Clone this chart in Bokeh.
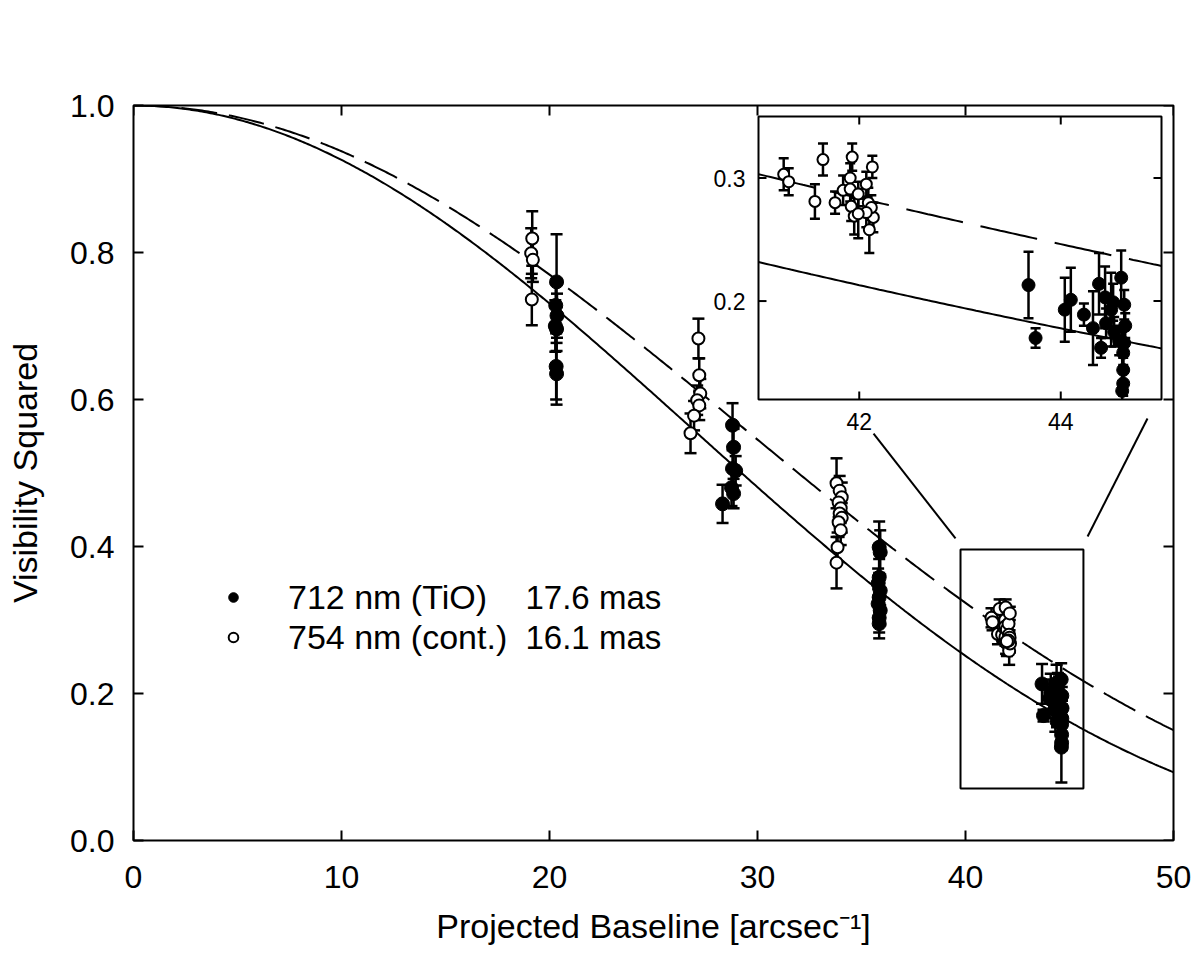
import numpy as np
from bokeh.plotting import figure
from bokeh.models import (Range1d, LinearAxis, FixedTicker, PrintfTickFormatter,
                          ColumnDataSource, Label, Legend, LegendItem, BoxAnnotation)
from bokeh.embed import file_html
from bokeh.resources import INLINE
from bokeh.core.properties import value

FONT = "Liberation Sans"

# ---- measurements ------------------------------------------------------
# 712 nm (TiO band): projected baseline [1/arcsec], squared visibility, 1-sigma error
tio_baseline = [20.34, 20.30, 20.36, 20.28, 20.34, 20.32, 20.34,
                28.80, 28.85, 28.80, 28.95, 28.75, 28.85, 28.32,
                35.85, 35.90, 35.85, 35.80, 35.90, 35.85, 35.80, 35.90, 35.85, 35.85,
                43.68, 43.75, 44.04, 44.10, 44.23, 44.32, 44.38, 44.40, 44.44, 44.45, 44.50,
                44.52, 44.53, 44.60, 44.63, 44.64, 44.63, 44.62, 44.62, 44.62, 44.61, 44.58]
tio_v2 = [0.760, 0.728, 0.714, 0.700, 0.696, 0.645, 0.635,
          0.565, 0.535, 0.506, 0.503, 0.480, 0.472, 0.458,
          0.399, 0.392, 0.358, 0.350, 0.340, 0.331, 0.322, 0.313, 0.303, 0.295,
          0.213, 0.170, 0.193, 0.201, 0.189, 0.178, 0.214, 0.162, 0.203, 0.182, 0.193,
          0.199, 0.175, 0.219, 0.197, 0.180, 0.166, 0.158, 0.144, 0.133, 0.127, 0.168]
tio_err = [0.065, 0.030, 0.030, 0.035, 0.030, 0.045, 0.042,
           0.030, 0.025, 0.025, 0.020, 0.025, 0.020, 0.026,
           0.035, 0.030, 0.025, 0.020, 0.020, 0.020, 0.020, 0.020, 0.020, 0.020,
           0.027, 0.008, 0.026, 0.026, 0.009, 0.030, 0.025, 0.008, 0.025, 0.012, 0.030,
           0.015, 0.012, 0.022, 0.012, 0.010, 0.010, 0.010, 0.010, 0.010, 0.048, 0.012]

# 754 nm (continuum)
cont_baseline = [19.17, 19.12, 19.20, 19.15,
                 27.16, 27.20, 27.25, 27.10, 27.20, 26.95, 26.78,
                 33.80, 33.95, 34.05, 33.90, 34.00, 33.95, 34.05, 33.90, 34.00, 33.85, 33.80,
                 41.25, 41.30, 41.56, 41.64, 41.76, 41.84, 41.91, 41.93, 41.91, 41.92,
                 41.95, 41.99, 42.07, 42.09, 42.10, 42.13, 42.14, 42.12, 42.07, 41.99]
cont_v2 = [0.819, 0.799, 0.790, 0.736,
           0.683, 0.633, 0.608, 0.599, 0.592, 0.578, 0.554,
           0.486, 0.476, 0.467, 0.460, 0.452, 0.445, 0.439, 0.433, 0.422, 0.399, 0.378,
           0.303, 0.297, 0.281, 0.315, 0.280, 0.290, 0.300, 0.317, 0.291, 0.277,
           0.269, 0.287, 0.295, 0.280, 0.258, 0.309, 0.268, 0.276, 0.272, 0.271]
cont_err = [0.037, 0.034, 0.030, 0.035,
            0.027, 0.023, 0.020, 0.020, 0.020, 0.020, 0.027,
            0.034, 0.020, 0.020, 0.020, 0.020, 0.020, 0.020, 0.020, 0.020, 0.020, 0.035,
            0.013, 0.011, 0.014, 0.013, 0.009, 0.012, 0.012, 0.011, 0.010, 0.012,
            0.015, 0.010, 0.010, 0.012, 0.019, 0.009, 0.012, 0.010, 0.012, 0.020]

# uniform-disk diameters [mas] fitted to each filter
diam_tio = 17.6
diam_cont = 16.1

x_range = (0, 50)
y_range = (0.0, 1.0)
x_ticks = [0, 10, 20, 30, 40, 50]
y_ticks = [0.0, 0.2, 0.4, 0.6, 0.8, 1.0]

# enlarged view of the longest baselines
zoom_x_range = (41, 45)
zoom_y_range = (0.12, 0.35)
zoom_x_ticks = [42, 44]
zoom_y_ticks = [0.2, 0.3]

legend_labels = ["712 nm (TiO)", "754 nm (cont.)"]
legend_diams = ["%.1f mas" % diam_tio, "%.1f mas" % diam_cont]

# ---- page geometry (pixels) -------------------------------------------
W, H = 1193, 959
FRAME_L, FRAME_R, FRAME_T, FRAME_B = 133, 1173, 105, 840
INSET_L, INSET_R, INSET_T, INSET_B = 758, 1161, 116, 399
TICK = 10
INSET_TICK = 8


def ud_visibility2(b, diam_mas):
    """Squared visibility of a uniform disk: [2 J1(z)/z]^2, z = pi * theta * B."""
    z = np.pi * diam_mas * 1e-3 * np.asarray(b, float)
    q = (z / 2.0) ** 2
    term = np.ones_like(z)
    total = np.zeros_like(z)
    for k in range(40):
        total += term
        term = -term * q / ((k + 1) * (k + 2))
    return total ** 2


def make_source(b, v, e, xlim=None, ylim=None):
    b = np.asarray(b, float); v = np.asarray(v, float); e = np.asarray(e, float)
    lo, hi = v - e, v + e
    if xlim is not None:
        keep = (b >= xlim[0]) & (b <= xlim[1])
        b, v, lo, hi = b[keep], v[keep], lo[keep], hi[keep]
    data = dict(b=b, v=v, lo=lo, hi=hi)
    if ylim is not None:
        data["lo"] = np.maximum(lo, ylim[0])
        data["hi"] = np.minimum(hi, ylim[1])
    return ColumnDataSource(data), lo, hi


# ---- main panel --------------------------------------------------------
p = figure(width=W, height=H, x_range=Range1d(*x_range), y_range=Range1d(*y_range),
           x_axis_type=None, y_axis_type=None, output_backend="svg",
           toolbar_location=None, min_border_left=FRAME_L, min_border_right=W - FRAME_R,
           min_border_top=FRAME_T, min_border_bottom=H - FRAME_B,
           background_fill_color="white", border_fill_color="white",
           outline_line_color="black", outline_line_width=2)

px_per_x = (FRAME_R - FRAME_L) / (x_range[1] - x_range[0])
px_per_y = (FRAME_B - FRAME_T) / (y_range[1] - y_range[0])

xax = LinearAxis(ticker=FixedTicker(ticks=x_ticks), formatter=PrintfTickFormatter(format="%d"),
                 axis_line_color=None, major_tick_in=TICK, major_tick_out=0,
                 major_tick_line_width=2, minor_tick_line_color=None,
                 major_label_text_font=FONT, major_label_text_font_size="32px",
                 major_label_text_color="black", major_label_standoff=25,
                 axis_label="Projected Baseline [arcsec\u207b\u00b9]",
                 axis_label_text_font=FONT, axis_label_text_font_size="34px",
                 axis_label_text_font_style="normal", axis_label_text_color="black",
                 axis_label_standoff=16)
p.add_layout(xax, "below")
yax = LinearAxis(ticker=FixedTicker(ticks=y_ticks), formatter=PrintfTickFormatter(format="%.1f"),
                 axis_line_color=None, major_tick_in=TICK, major_tick_out=0,
                 major_tick_line_width=2, minor_tick_line_color=None,
                 major_label_text_font=FONT, major_label_text_font_size="32px",
                 major_label_text_color="black", major_label_standoff=19,
                 axis_label="Visibility Squared",
                 axis_label_text_font=FONT, axis_label_text_font_size="34px",
                 axis_label_text_font_style="normal", axis_label_text_color="black",
                 axis_label_standoff=23)
p.add_layout(yax, "left")

# mirrored inward ticks on the top and right edges
p.segment(x0=x_ticks, y0=[y_range[1]] * len(x_ticks), x1=x_ticks,
          y1=[y_range[1] - TICK / px_per_y] * len(x_ticks), line_color="black", line_width=2)
p.segment(x0=[x_range[1]] * len(y_ticks), y0=y_ticks,
          x1=[x_range[1] - TICK / px_per_x] * len(y_ticks), y1=y_ticks,
          line_color="black", line_width=2)

# uniform-disk models
b_curve = np.linspace(x_range[0], x_range[1], 501)
p.line(b_curve, ud_visibility2(b_curve, diam_tio), line_color="black", line_width=2)
p.line(b_curve, ud_visibility2(b_curve, diam_cont), line_color="black", line_width=2,
       line_dash="36 12")

src_tio, _, _ = make_source(tio_baseline, tio_v2, tio_err)
src_cont, _, _ = make_source(cont_baseline, cont_v2, cont_err)


def draw_points(fig, s_tio, s_cont, cap, size_fill, size_open, cap_tio=None, cap_cont=None,
                **rn):
    for s, caps in ((s_cont, cap_cont), (s_tio, cap_tio)):
        fig.segment(x0="b", y0="lo", x1="b", y1="hi", source=s,
                    line_color="black", line_width=2.5, **rn)
        for key in ("lo", "hi"):
            src_c = caps[key] if caps is not None else s
            col = "y" if caps is not None else key
            fig.scatter("b", col, source=src_c, marker="dash", size=cap,
                        line_color="black", line_width=2.5, **rn)
    r_open = fig.scatter("b", "v", source=s_cont, marker="circle", size=size_open,
                         fill_color="white", line_color="black", line_width=2, **rn)
    r_fill = fig.scatter("b", "v", source=s_tio, marker="circle", size=size_fill,
                         fill_color="black", line_color="black", line_width=1, **rn)
    return r_fill, r_open


r_tio, r_cont = draw_points(p, src_tio, src_cont, 12, 14, 12)

# region shown enlarged, and connector lines to the inset
p.add_layout(BoxAnnotation(left=39.76, right=45.67, bottom=0.0707, top=0.396,
                           fill_alpha=0, line_color="black", line_alpha=1, line_width=2))
p.segment(x0=[35.58, 48.75], y0=[0.5537, 0.5741], x1=[39.52, 45.87], y1=[0.4109, 0.4136],
          line_color="black", line_width=2)

# legend (key marker size follows the glyph box)
legend = Legend(items=[LegendItem(label=legend_labels[0], renderers=[r_tio]),
                       LegendItem(label=legend_labels[1], renderers=[r_cont])],
                location=(88, 183), orientation="vertical",
                glyph_width=24, glyph_height=40, label_height=40, label_standoff=43,
                spacing=0, padding=0, margin=0,
                border_line_color=None, background_fill_alpha=0,
                label_text_font=FONT, label_text_font_size="34px",
                label_text_color="black")
p.add_layout(legend)
for i, txt in enumerate(legend_diams):
    p.add_layout(Label(x=392, y=243 - 40 * i, x_units="screen", y_units="screen",
                       text=txt, text_baseline="middle", text_align="left",
                       text_font=FONT, text_font_size="33px", text_color="black"))

# ---- inset: its own coordinate system mapped onto part of the frame ------
ix_scale = (INSET_R - INSET_L) / (zoom_x_range[1] - zoom_x_range[0])
iy_scale = (INSET_B - INSET_T) / (zoom_y_range[1] - zoom_y_range[0])
ix0 = zoom_x_range[0] - (INSET_L - FRAME_L) / ix_scale
iy0 = zoom_y_range[0] - (FRAME_B - INSET_B) / iy_scale
p.extra_x_ranges = {"ix": Range1d(ix0, ix0 + (FRAME_R - FRAME_L) / ix_scale)}
p.extra_y_ranges = {"iy": Range1d(iy0, iy0 + (FRAME_B - FRAME_T) / iy_scale)}
rn = dict(x_range_name="ix", y_range_name="iy")

zx0, zx1 = zoom_x_range
zy0, zy1 = zoom_y_range
p.quad(left=[zx0], right=[zx1], bottom=[zy0], top=[zy1], fill_color="white",
       line_color=None, **rn)

b_zoom = np.linspace(zx0, zx1, 101)
p.line(b_zoom, ud_visibility2(b_zoom, diam_tio), line_color="black", line_width=2, **rn)
p.line(b_zoom, ud_visibility2(b_zoom, diam_cont), line_color="black", line_width=2,
       line_dash="58 18", **rn)


def zoom_sources(b, v, e):
    s, lo, hi = make_source(b, v, e, xlim=zoom_x_range, ylim=zoom_y_range)
    bb = np.asarray(s.data["b"])
    caps = {}
    for key, arr in (("lo", lo), ("hi", hi)):
        ok = (arr >= zy0) & (arr <= zy1)
        caps[key] = ColumnDataSource(dict(b=bb[ok], y=arr[ok]))
    return s, caps


zs_tio, zc_tio = zoom_sources(tio_baseline, tio_v2, tio_err)
zs_cont, zc_cont = zoom_sources(cont_baseline, cont_v2, cont_err)
draw_points(p, zs_tio, zs_cont, 10, 13, 11, cap_tio=zc_tio, cap_cont=zc_cont, **rn)

# inset frame, inward ticks on all four sides and tick labels
p.quad(left=[zx0], right=[zx1], bottom=[zy0], top=[zy1], fill_color=None,
       line_color="black", line_width=2, **rn)
nx, ny = len(zoom_x_ticks), len(zoom_y_ticks)
dy, dx = INSET_TICK / iy_scale, INSET_TICK / ix_scale
p.segment(x0=zoom_x_ticks * 2, x1=zoom_x_ticks * 2,
          y0=[zy0] * nx + [zy1] * nx, y1=[zy0 + dy] * nx + [zy1 - dy] * nx,
          line_color="black", line_width=2, **rn)
p.segment(y0=zoom_y_ticks * 2, y1=zoom_y_ticks * 2,
          x0=[zx0] * ny + [zx1] * ny, x1=[zx0 + dx] * ny + [zx1 - dx] * ny,
          line_color="black", line_width=2, **rn)
p.text(x=zoom_x_ticks, y=[zy0] * nx, text=["%d" % t for t in zoom_x_ticks],
       text_align="center", text_baseline="top", y_offset=13,
       text_font=value(FONT), text_font_size=value("23px"), text_color="black", **rn)
p.text(x=[zx0] * ny, y=zoom_y_ticks, text=["%.1f" % t for t in zoom_y_ticks],
       text_align="right", text_baseline="middle", x_offset=-13,
       text_font=value(FONT), text_font_size=value("23px"), text_color="black", **rn)

open("out.html", "w").write(file_html(p, INLINE))
